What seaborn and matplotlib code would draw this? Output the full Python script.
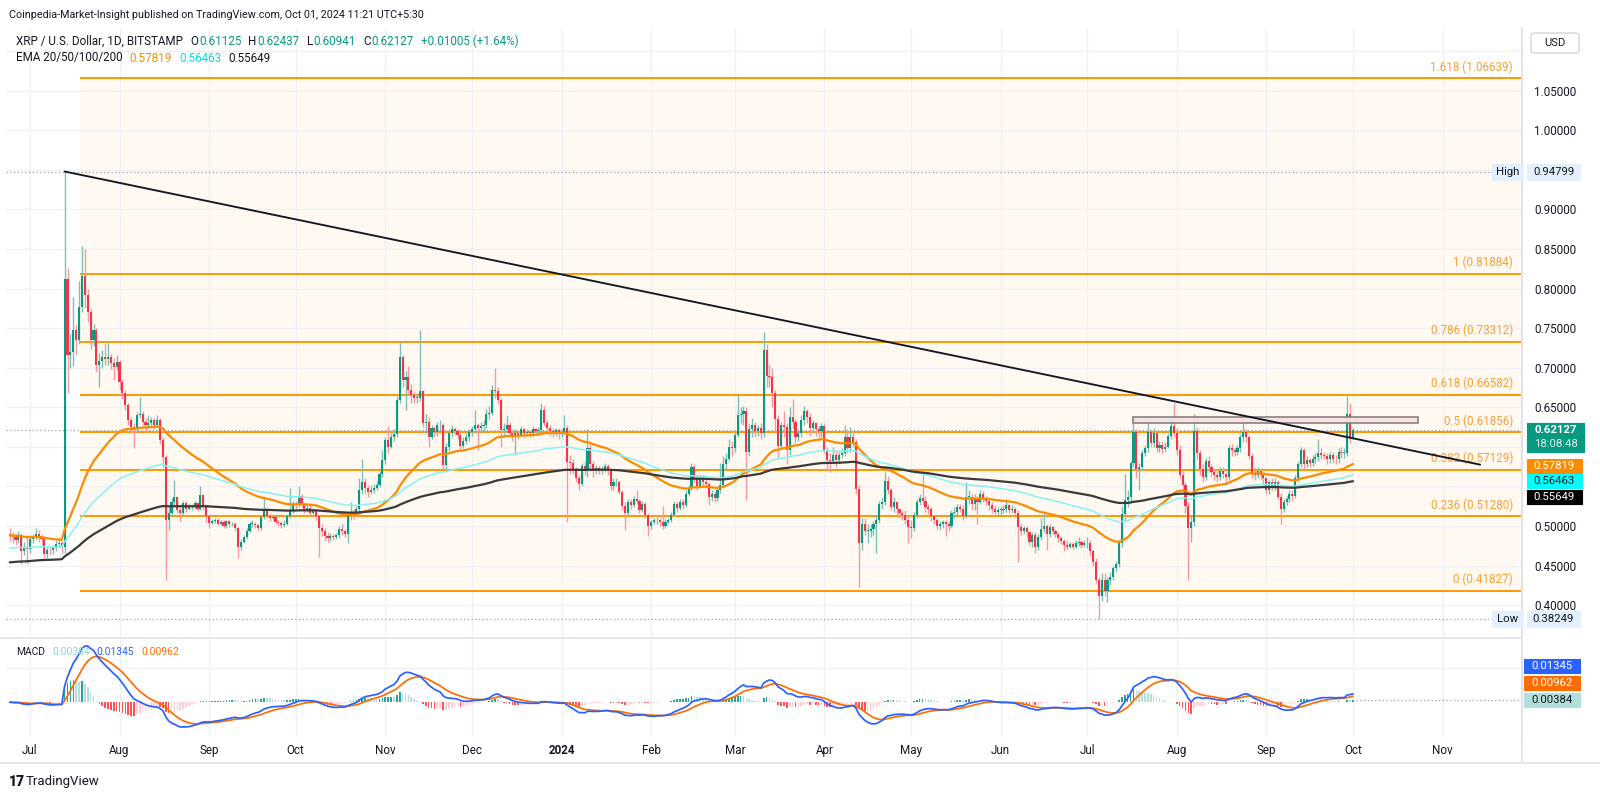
import numpy as np
import pandas as pd
import matplotlib
matplotlib.use("Agg")
import matplotlib.pyplot as plt
import matplotlib.transforms as mtransforms
from matplotlib.patches import Rectangle, FancyBboxPatch
from matplotlib.lines import Line2D
import seaborn as sns

# ------------------------------------------------------------------ data
start_date = "2023-06-24"
first_open = 0.490

c_2023_06 = [0.488, 0.486, 0.482, 0.489, 0.468, 0.474, 0.471]
h_2023_06 = [0.497, 0.492, 0.490, 0.493, 0.491, 0.480, 0.489]
l_2023_06 = [0.481, 0.479, 0.476, 0.478, 0.452, 0.463, 0.452]

c_2023_07 = [0.484, 0.486, 0.490, 0.486, 0.484, 0.464, 0.470, 0.469, 0.472, 0.477, 0.478, 0.474,
             0.812, 0.716, 0.720, 0.748, 0.735, 0.777, 0.816, 0.792, 0.771, 0.735,
             0.748, 0.703, 0.708, 0.714, 0.711, 0.714, 0.706, 0.701, 0.707]
h_2023_07 = [0.489, 0.490, 0.497, 0.495, 0.490, 0.487, 0.474, 0.475, 0.476, 0.482, 0.484, 0.481,
             0.94799, 0.826, 0.742, 0.790, 0.755, 0.810, 0.854, 0.850, 0.800, 0.776,
             0.755, 0.750, 0.718, 0.722, 0.730, 0.733, 0.717, 0.712, 0.716]
l_2023_07 = [0.466, 0.479, 0.482, 0.480, 0.476, 0.460, 0.460, 0.463, 0.465, 0.468, 0.472, 0.466,
             0.466, 0.668, 0.700, 0.702, 0.716, 0.730, 0.770, 0.776, 0.758, 0.724,
             0.728, 0.695, 0.676, 0.700, 0.704, 0.704, 0.699, 0.684, 0.697]

c_2023_08 = [0.682, 0.668, 0.653, 0.634, 0.625, 0.622, 0.640, 0.642, 0.632, 0.628,
             0.630, 0.634, 0.628, 0.634, 0.609, 0.587, 0.508, 0.516, 0.530, 0.537,
             0.520, 0.516, 0.529, 0.522, 0.524, 0.524, 0.529, 0.522, 0.539, 0.524, 0.512]
h_2023_08 = [0.710, 0.686, 0.672, 0.656, 0.638, 0.630, 0.644, 0.663, 0.645, 0.636,
             0.640, 0.638, 0.637, 0.640, 0.637, 0.612, 0.590, 0.524, 0.535, 0.558,
             0.538, 0.524, 0.532, 0.531, 0.528, 0.528, 0.532, 0.530, 0.550, 0.541, 0.526]
l_2023_08 = [0.672, 0.660, 0.646, 0.628, 0.618, 0.598, 0.618, 0.636, 0.628, 0.620,
             0.624, 0.626, 0.622, 0.625, 0.604, 0.575, 0.432, 0.495, 0.512, 0.527,
             0.516, 0.506, 0.514, 0.518, 0.520, 0.520, 0.521, 0.519, 0.520, 0.520, 0.505]

c_2023_09 = [0.504, 0.506, 0.508, 0.503, 0.505, 0.500, 0.506, 0.502, 0.503, 0.497,
             0.474, 0.480, 0.486, 0.494, 0.503, 0.503, 0.501, 0.497, 0.511, 0.522,
             0.513, 0.510, 0.511, 0.505, 0.504, 0.501, 0.503, 0.512, 0.520, 0.527]
h_2023_09 = [0.515, 0.509, 0.510, 0.510, 0.508, 0.507, 0.508, 0.507, 0.505, 0.505,
             0.499, 0.484, 0.489, 0.497, 0.506, 0.507, 0.505, 0.503, 0.513, 0.535,
             0.523, 0.515, 0.514, 0.512, 0.507, 0.506, 0.507, 0.515, 0.548, 0.531]
l_2023_09 = [0.497, 0.502, 0.504, 0.501, 0.501, 0.497, 0.498, 0.499, 0.500, 0.494,
             0.459, 0.470, 0.478, 0.484, 0.492, 0.499, 0.497, 0.494, 0.495, 0.509,
             0.510, 0.506, 0.507, 0.502, 0.500, 0.498, 0.499, 0.501, 0.510, 0.517]

c_2023_10 = [0.526, 0.538, 0.526, 0.521, 0.523, 0.517, 0.519, 0.512, 0.497, 0.493,
             0.487, 0.485, 0.487, 0.486, 0.488, 0.496, 0.493, 0.490, 0.512, 0.517,
             0.515, 0.522, 0.546, 0.555, 0.548, 0.543, 0.545, 0.548, 0.552, 0.566, 0.583]
h_2023_10 = [0.532, 0.550, 0.540, 0.529, 0.528, 0.526, 0.523, 0.522, 0.514, 0.503,
             0.497, 0.492, 0.491, 0.490, 0.491, 0.500, 0.502, 0.496, 0.516, 0.530,
             0.522, 0.526, 0.560, 0.584, 0.560, 0.552, 0.552, 0.553, 0.557, 0.570, 0.596]
l_2023_10 = [0.520, 0.524, 0.524, 0.517, 0.518, 0.514, 0.515, 0.508, 0.461, 0.487,
             0.481, 0.480, 0.481, 0.482, 0.484, 0.485, 0.489, 0.486, 0.478, 0.508,
             0.509, 0.512, 0.518, 0.540, 0.540, 0.537, 0.540, 0.542, 0.545, 0.549, 0.562]

c_2023_11 = [0.609, 0.600, 0.613, 0.616, 0.659, 0.714, 0.685, 0.688, 0.672, 0.665,
             0.662, 0.662, 0.670, 0.630, 0.632, 0.613, 0.624, 0.619, 0.627, 0.627,
             0.577, 0.600, 0.617, 0.622, 0.620, 0.615, 0.601, 0.608, 0.612, 0.619]
h_2023_11 = [0.612, 0.626, 0.618, 0.622, 0.664, 0.732, 0.716, 0.696, 0.702, 0.680,
             0.670, 0.668, 0.748, 0.672, 0.642, 0.638, 0.628, 0.626, 0.632, 0.634,
             0.630, 0.605, 0.622, 0.628, 0.625, 0.622, 0.618, 0.612, 0.618, 0.622]
l_2023_11 = [0.578, 0.592, 0.598, 0.608, 0.612, 0.656, 0.676, 0.646, 0.666, 0.656,
             0.655, 0.655, 0.658, 0.625, 0.618, 0.600, 0.610, 0.612, 0.614, 0.620,
             0.572, 0.572, 0.595, 0.612, 0.615, 0.610, 0.595, 0.598, 0.604, 0.608]

c_2023_12 = [0.622, 0.627, 0.624, 0.626, 0.628, 0.642, 0.643, 0.672, 0.670, 0.659,
             0.621, 0.622, 0.628, 0.618, 0.614, 0.618, 0.614, 0.622, 0.618, 0.619,
             0.617, 0.622, 0.620, 0.621, 0.647, 0.630, 0.624, 0.620, 0.617, 0.621, 0.616]
h_2023_12 = [0.626, 0.646, 0.630, 0.632, 0.634, 0.648, 0.652, 0.678, 0.700, 0.676,
             0.662, 0.630, 0.640, 0.632, 0.620, 0.622, 0.620, 0.626, 0.624, 0.623,
             0.621, 0.626, 0.624, 0.625, 0.656, 0.652, 0.634, 0.628, 0.624, 0.624, 0.624]
l_2023_12 = [0.614, 0.618, 0.596, 0.618, 0.620, 0.624, 0.635, 0.640, 0.662, 0.654,
             0.600, 0.612, 0.618, 0.612, 0.608, 0.590, 0.610, 0.612, 0.612, 0.614,
             0.612, 0.614, 0.616, 0.616, 0.618, 0.626, 0.620, 0.614, 0.612, 0.614, 0.610]

c_2024_01 = [0.619, 0.624, 0.581, 0.580, 0.572, 0.560, 0.553, 0.576, 0.570, 0.598,
             0.578, 0.569, 0.573, 0.570, 0.572, 0.576, 0.569, 0.550, 0.555, 0.556,
             0.543, 0.525, 0.517, 0.530, 0.526, 0.534, 0.532, 0.520, 0.528, 0.514, 0.500]
h_2024_01 = [0.623, 0.640, 0.628, 0.590, 0.584, 0.575, 0.564, 0.580, 0.582, 0.623,
             0.605, 0.582, 0.577, 0.576, 0.576, 0.580, 0.578, 0.572, 0.560, 0.560,
             0.558, 0.546, 0.530, 0.534, 0.534, 0.538, 0.545, 0.534, 0.532, 0.530, 0.516]
l_2024_01 = [0.612, 0.615, 0.505, 0.566, 0.566, 0.555, 0.546, 0.550, 0.564, 0.562,
             0.570, 0.562, 0.566, 0.566, 0.566, 0.568, 0.565, 0.545, 0.546, 0.550,
             0.540, 0.520, 0.495, 0.514, 0.522, 0.524, 0.528, 0.516, 0.518, 0.510, 0.487]

c_2024_02 = [0.505, 0.507, 0.508, 0.505, 0.500, 0.505, 0.508, 0.514, 0.528, 0.523,
             0.530, 0.527, 0.540, 0.548, 0.575, 0.560, 0.550, 0.560, 0.556, 0.553,
             0.537, 0.540, 0.535, 0.545, 0.552, 0.578, 0.585, 0.600, 0.598]
h_2024_02 = [0.508, 0.510, 0.512, 0.510, 0.525, 0.509, 0.510, 0.518, 0.532, 0.530,
             0.534, 0.534, 0.545, 0.552, 0.580, 0.578, 0.564, 0.565, 0.564, 0.560,
             0.556, 0.545, 0.544, 0.548, 0.580, 0.588, 0.592, 0.610, 0.608]
l_2024_02 = [0.496, 0.502, 0.503, 0.500, 0.496, 0.498, 0.502, 0.505, 0.512, 0.518,
             0.520, 0.522, 0.524, 0.538, 0.545, 0.555, 0.545, 0.548, 0.550, 0.548,
             0.526, 0.532, 0.530, 0.532, 0.542, 0.548, 0.572, 0.582, 0.588]

c_2024_03 = [0.615, 0.640, 0.642, 0.645, 0.594, 0.622, 0.628, 0.620, 0.624, 0.618,
             0.722, 0.690, 0.688, 0.668, 0.635, 0.601, 0.628, 0.625, 0.596, 0.638,
             0.632, 0.612, 0.618, 0.634, 0.645, 0.638, 0.624, 0.630, 0.622, 0.620, 0.626]
h_2024_03 = [0.620, 0.665, 0.650, 0.652, 0.650, 0.630, 0.636, 0.632, 0.628, 0.630,
             0.745, 0.730, 0.705, 0.700, 0.672, 0.640, 0.632, 0.645, 0.630, 0.650,
             0.660, 0.635, 0.622, 0.640, 0.652, 0.648, 0.643, 0.634, 0.632, 0.626, 0.630]
l_2024_03 = [0.594, 0.612, 0.630, 0.628, 0.533, 0.588, 0.612, 0.612, 0.614, 0.610,
             0.612, 0.676, 0.676, 0.650, 0.618, 0.585, 0.598, 0.612, 0.578, 0.590,
             0.624, 0.605, 0.608, 0.612, 0.628, 0.630, 0.614, 0.618, 0.614, 0.612, 0.612]

c_2024_04 = [0.596, 0.583, 0.582, 0.590, 0.583, 0.590, 0.592, 0.612, 0.598, 0.613,
             0.606, 0.547, 0.478, 0.503, 0.494, 0.494, 0.496, 0.503, 0.508, 0.528,
             0.530, 0.557, 0.545, 0.524, 0.530, 0.521, 0.516, 0.514, 0.508, 0.499]
h_2024_04 = [0.630, 0.600, 0.592, 0.600, 0.596, 0.594, 0.598, 0.628, 0.622, 0.625,
             0.618, 0.610, 0.552, 0.510, 0.510, 0.502, 0.503, 0.506, 0.512, 0.532,
             0.536, 0.568, 0.563, 0.548, 0.536, 0.532, 0.522, 0.520, 0.520, 0.512]
l_2024_04 = [0.592, 0.570, 0.568, 0.578, 0.575, 0.580, 0.586, 0.588, 0.592, 0.594,
             0.600, 0.540, 0.423, 0.470, 0.488, 0.478, 0.486, 0.488, 0.466, 0.504,
             0.522, 0.526, 0.540, 0.520, 0.518, 0.514, 0.510, 0.508, 0.502, 0.478]

c_2024_05 = [0.498, 0.514, 0.530, 0.535, 0.531, 0.524, 0.521, 0.513, 0.507, 0.500,
             0.502, 0.505, 0.503, 0.500, 0.516, 0.518, 0.524, 0.522, 0.512, 0.537,
             0.537, 0.528, 0.534, 0.530, 0.541, 0.535, 0.532, 0.526, 0.522, 0.518, 0.520]
h_2024_05 = [0.508, 0.518, 0.534, 0.540, 0.569, 0.538, 0.528, 0.524, 0.514, 0.510,
             0.506, 0.508, 0.508, 0.506, 0.520, 0.524, 0.528, 0.528, 0.526, 0.555,
             0.545, 0.540, 0.540, 0.538, 0.545, 0.544, 0.538, 0.534, 0.530, 0.526, 0.524]
l_2024_05 = [0.485, 0.494, 0.510, 0.526, 0.526, 0.518, 0.515, 0.506, 0.502, 0.496,
             0.495, 0.498, 0.487, 0.494, 0.498, 0.510, 0.514, 0.518, 0.508, 0.510,
             0.528, 0.522, 0.520, 0.503, 0.528, 0.530, 0.526, 0.520, 0.516, 0.512, 0.514]

c_2024_06 = [0.520, 0.522, 0.526, 0.520, 0.521, 0.516, 0.499, 0.494, 0.497, 0.492,
             0.480, 0.488, 0.474, 0.486, 0.496, 0.500, 0.490, 0.499, 0.494, 0.490,
             0.485, 0.481, 0.476, 0.474, 0.477, 0.474, 0.478, 0.480, 0.476, 0.478]
h_2024_06 = [0.524, 0.526, 0.532, 0.528, 0.526, 0.524, 0.520, 0.502, 0.500, 0.500,
             0.494, 0.492, 0.492, 0.490, 0.510, 0.518, 0.502, 0.502, 0.500, 0.496,
             0.492, 0.486, 0.483, 0.482, 0.480, 0.480, 0.482, 0.486, 0.482, 0.482]
l_2024_06 = [0.514, 0.516, 0.518, 0.516, 0.516, 0.512, 0.455, 0.488, 0.490, 0.486,
             0.476, 0.474, 0.466, 0.470, 0.482, 0.492, 0.470, 0.486, 0.490, 0.486,
             0.480, 0.477, 0.468, 0.470, 0.472, 0.471, 0.472, 0.475, 0.472, 0.473]

c_2024_07 = [0.478, 0.468, 0.455, 0.432, 0.412, 0.432, 0.418, 0.432, 0.436, 0.447,
             0.452, 0.478, 0.515, 0.533, 0.537, 0.579, 0.619, 0.572, 0.575, 0.592,
             0.598, 0.619, 0.605, 0.618, 0.598, 0.602, 0.597, 0.600, 0.614, 0.626, 0.617]
h_2024_07 = [0.486, 0.482, 0.470, 0.460, 0.436, 0.440, 0.440, 0.436, 0.442, 0.450,
             0.456, 0.482, 0.525, 0.566, 0.545, 0.582, 0.637, 0.622, 0.580, 0.596,
             0.602, 0.630, 0.622, 0.624, 0.620, 0.608, 0.608, 0.606, 0.618, 0.637, 0.656]
l_2024_07 = [0.472, 0.462, 0.450, 0.428, 0.38249, 0.405, 0.412, 0.404, 0.426, 0.432,
             0.442, 0.448, 0.474, 0.505, 0.524, 0.530, 0.575, 0.560, 0.545, 0.570,
             0.588, 0.594, 0.600, 0.600, 0.594, 0.594, 0.592, 0.594, 0.598, 0.610, 0.612]

c_2024_08 = [0.596, 0.565, 0.552, 0.525, 0.497, 0.505, 0.620, 0.592, 0.572, 0.562,
             0.582, 0.575, 0.568, 0.565, 0.562, 0.570, 0.566, 0.562, 0.598, 0.596,
             0.594, 0.598, 0.612, 0.619, 0.612, 0.588, 0.567, 0.565, 0.569, 0.565, 0.560]
h_2024_08 = [0.624, 0.602, 0.570, 0.556, 0.530, 0.512, 0.642, 0.625, 0.596, 0.578,
             0.586, 0.588, 0.578, 0.572, 0.570, 0.574, 0.574, 0.568, 0.602, 0.604,
             0.600, 0.602, 0.616, 0.630, 0.622, 0.615, 0.592, 0.574, 0.574, 0.572, 0.566]
l_2024_08 = [0.590, 0.560, 0.545, 0.516, 0.432, 0.480, 0.500, 0.585, 0.565, 0.555,
             0.558, 0.568, 0.562, 0.558, 0.556, 0.558, 0.560, 0.555, 0.558, 0.588,
             0.588, 0.590, 0.594, 0.606, 0.606, 0.584, 0.560, 0.558, 0.560, 0.558, 0.552]

c_2024_09 = [0.545, 0.555, 0.550, 0.556, 0.537, 0.522, 0.530, 0.534, 0.541, 0.538,
             0.560, 0.578, 0.596, 0.578, 0.583, 0.580, 0.585, 0.587, 0.592, 0.590,
             0.588, 0.584, 0.590, 0.585, 0.584, 0.594, 0.592, 0.592, 0.641, 0.61125]
h_2024_09 = [0.562, 0.558, 0.560, 0.560, 0.558, 0.542, 0.534, 0.538, 0.545, 0.546,
             0.564, 0.582, 0.600, 0.598, 0.588, 0.586, 0.590, 0.592, 0.610, 0.598,
             0.594, 0.592, 0.594, 0.594, 0.590, 0.598, 0.600, 0.598, 0.664, 0.655]
l_2024_09 = [0.540, 0.540, 0.545, 0.546, 0.534, 0.503, 0.518, 0.526, 0.530, 0.532,
             0.535, 0.555, 0.574, 0.572, 0.574, 0.574, 0.576, 0.580, 0.582, 0.584,
             0.584, 0.578, 0.580, 0.580, 0.578, 0.580, 0.586, 0.586, 0.588, 0.605]

c_2024_10 = [0.62127]
h_2024_10 = [0.62437]
l_2024_10 = [0.60941]

# EMA 50 / 100 / 200 values at the first candle
ema_periods = [50, 100, 200]
ema_seeds = [0.488, 0.472, 0.454]

fib_ratios = ["1.618", "1", "0.786", "0.618", "0.5", "0.382", "0.236", "0"]
fib_prices = [1.06639, 0.81884, 0.73312, 0.66582, 0.61856, 0.57129, 0.51280, 0.41827]
fib_start = "2023-07-18 07:00"

trend_dates = ["2023-07-13", "2024-11-14"]
trend_prices = [0.94799, 0.5775]

box_dates = ["2024-07-16 17:00", "2024-10-23 12:00"]
box_prices = [0.6298, 0.6382]

high_mark = 0.94799
low_mark = 0.38249
last_price = 0.62127
symbol_text = "XRP / U.S. Dollar, 1D, BITSTAMP"
ohlc_text = [("O", "0.61125"), ("H", "0.62437"), ("L", "0.60941"), ("C", "0.62127")]
change_text = "+0.01005 (+1.64%)"
ema_title = "EMA 20/50/100/200"
ema_last = ["0.57819", "0.56463", "0.55649"]
macd_last = ["0.00384", "0.01345", "0.00962"]
countdown = "18:08:48"
price_ticks = [0.40, 0.45, 0.50, 0.65, 0.70, 0.75, 0.80, 0.85, 0.90, 1.00, 1.05]
month_labels = ["Jul", "Aug", "Sep", "Oct", "Nov", "Dec", "2024", "Feb", "Mar", "Apr",
                "May", "Jun", "Jul", "Aug", "Sep", "Oct", "Nov"]
month_starts = pd.date_range("2023-07-01", periods=17, freq="MS")

# ------------------------------------------------------------------ prep
months = ["2023_06", "2023_07", "2023_08", "2023_09", "2023_10", "2023_11", "2023_12",
          "2024_01", "2024_02", "2024_03", "2024_04", "2024_05", "2024_06", "2024_07",
          "2024_08", "2024_09", "2024_10"]
g = globals()
close = np.concatenate([g["c_" + m] for m in months]).astype(float)
high = np.concatenate([g["h_" + m] for m in months]).astype(float)
low = np.concatenate([g["l_" + m] for m in months]).astype(float)
open_ = np.r_[first_open, close[:-1]]
high = np.maximum(high, np.maximum(open_, close))
low = np.minimum(low, np.minimum(open_, close))

ref = pd.Timestamp("2023-07-01")
dates = pd.date_range(start_date, periods=len(close), freq="D")
x = ((dates - ref) / pd.Timedelta(days=1)).values.astype(float)


def dnum(d):
    return (pd.Timestamp(d) - ref) / pd.Timedelta(days=1)


def ema(vals, period, seed):
    a = 2.0 / (period + 1)
    out = np.empty(len(vals))
    prev = seed
    for i, v in enumerate(vals):
        if i > 0:
            prev = prev + a * (v - prev)
        out[i] = prev
    return out


emas = [ema(close, p, s) for p, s in zip(ema_periods, ema_seeds)]
ema12 = ema(close, 12, close[0])
ema26 = ema(close, 26, close[0])
macd = ema12 - ema26
signal = ema(macd, 9, macd[0])
hist = macd - signal

# ------------------------------------------------------------------ layout
W, H = 1600, 798
PL, PR = 6, 1522
MAIN_T, MAIN_B = 28, 636
MACD_T, MACD_B = 639, 737
Y_TOP_PX, P_TOP = 90.8, 1.05
PX_PER_UNIT = 791.2
XLIM = (-8.3, 516.5)
YLIM = (P_TOP - (MAIN_B - Y_TOP_PX) / PX_PER_UNIT, P_TOP + (Y_TOP_PX - MAIN_T) / PX_PER_UNIT)

sns.set_theme(style="white")
plt.rcParams["font.family"] = ["Roboto", "DejaVu Sans"]
TXT = "#131722"
GRID = "#eef0f4"
UP, DN = "#089981", "#f23645"

fig = plt.figure(figsize=(W / 100, H / 100), dpi=100)
fig.patch.set_facecolor("white")
renderer = fig.canvas.get_renderer()

ax = fig.add_axes([PL / W, 1 - MAIN_B / H, (PR - PL) / W, (MAIN_B - MAIN_T) / H])
ax.set_facecolor("white")
ax.set_xlim(*XLIM)
ax.set_ylim(*YLIM)

# fib background
fx0 = dnum(fib_start)
ax.add_patch(Rectangle((fx0, fib_prices[-1]), XLIM[1] - fx0, fib_prices[0] - fib_prices[-1],
                       facecolor="#fff9f1", edgecolor="none", zorder=0.2))
# grid
for p in np.arange(0.40, 1.101, 0.05):
    ax.axhline(p, color=GRID, lw=1, zorder=0.3)
for d in month_starts:
    ax.axvline(dnum(d), color=GRID, lw=1, zorder=0.3)

# fib lines + labels
ax.hlines(fib_prices, fx0, XLIM[1], colors="#ff9800", lw=1.4, zorder=1.5)
lab_tr = mtransforms.offset_copy(ax.get_yaxis_transform(), fig=fig, x=0, y=11, units="dots")
lab_tr = mtransforms.blended_transform_factory(ax.transAxes, lab_tr)
for r, p in zip(fib_ratios, fib_prices):
    ax.text(1 - 9 / (PR - PL), p, f"{r} ({p:.5f})", transform=lab_tr, ha="right", va="center",
            color="#f7a035", fontsize=8.4, zorder=6)

# dotted reference lines
for p in (high_mark, low_mark, last_price):
    ax.axhline(p, color="#9aa0ab", lw=0.9, ls=(0, (1, 2)), zorder=1.6)

# candles
up = close >= open_
body_col = np.where(up, UP, DN)
wick_col = np.where(up, "#7fbfb5", "#f49aa2")
ax.vlines(x, low, high, colors=wick_col, lw=1.0, zorder=3)
ax.bar(x, np.maximum(np.abs(close - open_), 0.0009), bottom=np.minimum(open_, close),
       width=0.72, color=body_col, linewidth=0, zorder=4)

# EMAs
ema_styles = [("#fb8c00", 1.6), ("#86f3f3", 1.1), ("#3a3a3a", 1.6)]
for e, (col, lw) in zip(emas, ema_styles):
    sns.lineplot(x=x, y=e, ax=ax, color=col, linewidth=lw, estimator=None, sort=False,
                 legend=False, zorder=5)

# trendline
ax.plot([dnum(d) for d in trend_dates], trend_prices, color="#131722", lw=1.35, zorder=6,
        solid_capstyle="round")
# resistance box
bx0, bx1 = dnum(box_dates[0]), dnum(box_dates[1])
ax.add_patch(Rectangle((bx0, box_prices[0]), bx1 - bx0, box_prices[1] - box_prices[0],
                       facecolor="#f9dfe1", edgecolor="#7d7d7d", lw=1.2, zorder=5.5, alpha=0.95))

# axes cosmetics
ax.yaxis.tick_right()
ax.set_yticks(price_ticks)
ax.set_yticklabels([f"{t:.5f}" for t in price_ticks])
ax.tick_params(axis="y", length=0, pad=8.6, labelsize=8.4, labelcolor=TXT)
ax.set_xticks([])
for s in ("top", "left", "bottom"):
    ax.spines[s].set_visible(False)
ax.spines["right"].set_color("#e0e3eb")
ax.set_xlabel("")
ax.set_ylabel("")

# ------------------------------------------------------------------ MACD pane
axm = fig.add_axes([PL / W, 1 - MACD_B / H, (PR - PL) / W, (MACD_B - MACD_T) / H])
axm.set_facecolor("white")
zero_y, peak_y = 702.3, 646.0
scale = (zero_y - peak_y) / macd.max()
axm.set_ylim(-(MACD_B - zero_y) / scale, (zero_y - MACD_T) / scale)
axm.set_xlim(*XLIM)
for d in month_starts:
    axm.axvline(dnum(d), color=GRID, lw=1, zorder=0.3)
axm.axhline((zero_y - 668) / scale, color=GRID, lw=1, zorder=0.3)

prev = np.r_[hist[0], hist[:-1]]
hcol = np.where(hist >= 0, np.where(hist >= prev, "#26a69a", "#b2dfdb"),
                np.where(hist < prev, "#ff5252", "#ffcdd2"))
axm.bar(x, hist, width=0.55, color=hcol, linewidth=0, zorder=2)
sns.lineplot(x=x, y=macd, ax=axm, color="#2962ff", linewidth=1.25, estimator=None, sort=False,
             legend=False, zorder=4)
sns.lineplot(x=x, y=signal, ax=axm, color="#ff6d00", linewidth=1.25, estimator=None, sort=False,
             legend=False, zorder=3)
axm.plot([x[-1] + 1, XLIM[1]], [hist[-1], hist[-1]], color="#9aa0ab", lw=0.9, ls=(0, (1, 2)))

axm.set_yticks([])
axm.set_xticks([dnum(d) for d in month_starts])
axm.set_xticklabels(month_labels)
axm.tick_params(axis="x", length=0, pad=5, labelsize=8.4, labelcolor=TXT)
axm.get_xticklabels()[6].set_fontweight("bold")
for s in ("top", "left", "bottom"):
    axm.spines[s].set_visible(False)
axm.spines["right"].set_color("#e0e3eb")
axm.set_xlabel("")
axm.set_ylabel("")

# pane separators / frame lines
for (x0, y0, x1, y1) in [(0, 637.5, PR, 637.5), (0, 763, W, 763), (PR, 28, PR, 763)]:
    fig.add_artist(Line2D([x0 / W, x1 / W], [1 - y0 / H, 1 - y1 / H], color="#e0e3eb", lw=1.2,
                          transform=fig.transFigure))


# ------------------------------------------------------------------ texts
def ftext(px, py, s, **kw):
    kw.setdefault("va", "center")
    kw.setdefault("fontsize", 7.6)
    kw.setdefault("color", TXT)
    return fig.text(px / W, 1 - py / H, s, **kw)


def chain(px, py, pieces, fontsize):
    """draw text pieces one after another; pieces = (text, colour, gap_before_px)"""
    cur = px
    for s, col, gap in pieces:
        cur += gap
        t = ftext(cur, py, s, color=col, fontsize=fontsize)
        bb = t.get_window_extent(renderer)
        cur = bb.x1


def fbox(x0, y0, x1, y1, fc, ec=None):
    fig.add_artist(Rectangle((x0 / W, 1 - y1 / H), (x1 - x0) / W, (y1 - y0) / H,
                             transform=fig.transFigure, facecolor=fc,
                             edgecolor=ec if ec else fc, lw=0.8, zorder=20))


ftext(9, 14.5, "Coinpedia-Market-Insight published on TradingView.com, Oct 01, 2024 11:21 UTC+5:30",
      fontsize=7.75)

line1 = [(symbol_text, TXT, 0)]
for k, v in ohlc_text:
    line1 += [(k, TXT, 7), (v, UP, 1)]
line1 += [(change_text, UP, 7)]
chain(16, 41.5, line1, 8.4)

line2 = [(ema_title, TXT, 0)]
for v, col in zip(ema_last, ["#fb8c00", "#00e0ea", TXT]):
    line2 += [(v, col, 7)]
chain(16, 58, line2, 8.4)

line3 = [("MACD", TXT, 0)]
for v, col in zip(macd_last, ["#8fd3cb", "#2962ff", "#ff6d00"]):
    line3 += [(v, col, 7)]
chain(16, 652, line3, 7.4)

# USD button
fig.add_artist(FancyBboxPatch((1531 / W, 1 - 53 / H), 48 / W, 20 / H,
                              boxstyle="round,pad=0,rounding_size=0.003",
                              transform=fig.transFigure, facecolor="white",
                              edgecolor="#d1d4dc", lw=1, zorder=20))
ftext(1555, 43, "USD", ha="center", fontsize=8.0, zorder=21)


def price_y(p):
    return Y_TOP_PX + (P_TOP - p) * PX_PER_UNIT


# High / Low markers
for name, p in (("High", high_mark), ("Low", low_mark)):
    yc = price_y(p)
    fbox(1492, yc - 8, 1523, yc + 8, "#e3effd")
    fbox(1527, yc - 8, 1580, yc + 8, "#e3effd")
    ftext(1507.5, yc, name, ha="center", fontsize=8.2, zorder=21)
    ftext(1553.5, yc, f"{p:.5f}", ha="center", fontsize=8.2, zorder=21)

# last price box
yc = price_y(last_price)
fbox(1527, yc - 7.5, 1584, yc + 21.5, UP)
ftext(1555.5, yc, f"{last_price:.5f}", ha="center", color="white", fontsize=8.2,
      fontweight="bold", zorder=21)
ftext(1555.5, yc + 14, countdown, ha="center", color="#d6efe9", fontsize=8.2, zorder=21)

# EMA boxes
for v, (y0, y1), fc, tc in zip(ema_last, [(459, 473), (473.5, 488), (490, 504)],
                               ["#fb8c00", "#00ffff", "#000000"], ["white", TXT, "white"]):
    fbox(1527, y0, 1582, y1, fc)
    ftext(1554.5, (y0 + y1) / 2, v, ha="center", color=tc, fontsize=8.2, zorder=21)

# MACD boxes
for v, (y0, y1), fc, tc in zip([macd_last[1], macd_last[2], macd_last[0]],
                               [(659, 673), (676, 690), (693, 707)],
                               ["#2962ff", "#ff6d00", "#b2dfdb"], ["white", "white", TXT]):
    fbox(1524, y0, 1580, y1, fc)
    ftext(1552, (y0 + y1) / 2, v, ha="center", color=tc, fontsize=8.2, zorder=21)

# logo
ftext(9, 782, "17", fontsize=10, fontweight="heavy")
ftext(26, 782, "TradingView", fontsize=9.5)

fig.savefig("out.png", dpi=100, facecolor="white")
